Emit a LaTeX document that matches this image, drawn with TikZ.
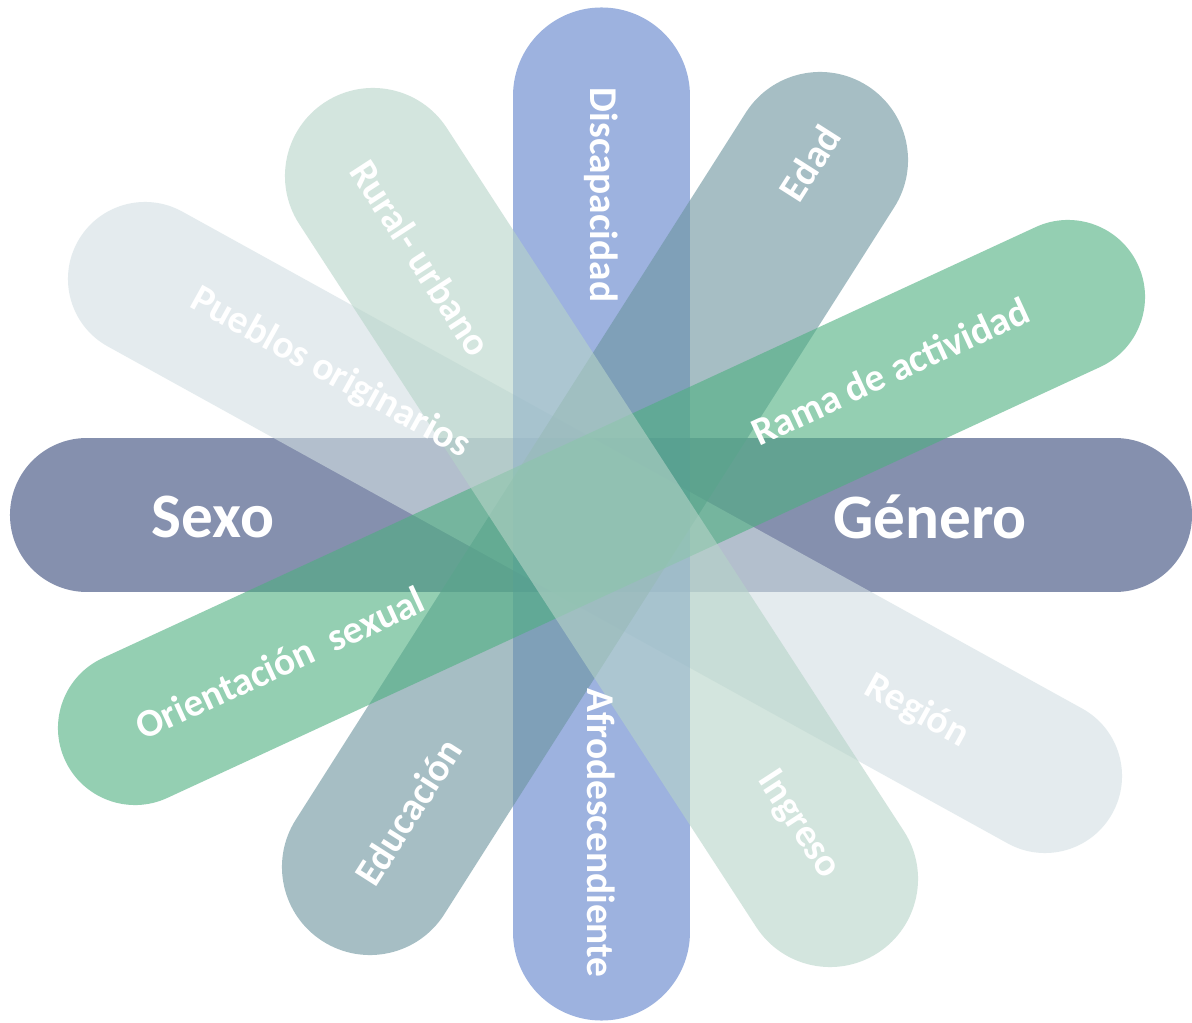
\documentclass[tikz,border=0pt]{standalone}
\usepackage{fontspec}
\setmainfont{Carlito}
\definecolor{sexocol}{RGB}{52,70,120}
\definecolor{discol}{RGB}{92,128,203}
\definecolor{edadcol}{RGB}{107,148,158}
\definecolor{ramacol}{RGB}{77,175,128}
\definecolor{ruralcol}{RGB}{182,212,200}
\definecolor{pueblocol}{RGB}{210,223,227}
\begin{document}
\begin{tikzpicture}[x=0.025cm, y=-0.025cm,
  band/.style={line cap=round, draw opacity=0.6},
  lbl/.style={text=white, inner sep=0pt, font=\bfseries\fontsize{28}{32}\selectfont},
  biglbl/.style={lbl, font=\bfseries\fontsize{45}{50}\selectfont}]
\fill[white] (0,0) rectangle (1192,1023);
\useasboundingbox (0,0) rectangle (1192,1023);

% Ends of the bands (centres of the round caps)
\coordinate (sexoL) at (87,515);
\coordinate (sexoR) at (1115,515);
\coordinate (puebloL) at (145,279);
\coordinate (puebloR) at (1045,776);
\coordinate (disT) at (601.5,96);
\coordinate (disB) at (601.5,932);
\coordinate (edadT) at (820,160);
\coordinate (edadB) at (370,867);
\coordinate (ramaT) at (1068,297);
\coordinate (ramaB) at (135,728);
\coordinate (ruralT) at (373,176);
\coordinate (ruralB) at (830,879);

% The bands
\draw[band, sexocol, line width=3.85cm] (sexoL) -- (sexoR);
\draw[band, pueblocol, line width=3.85cm] (puebloL) -- (puebloR);
\draw[band, discol, line width=4.425cm] (disT) -- (disB);
\draw[band, edadcol, line width=4.4cm] (edadT) -- (edadB);
\draw[band, ramacol, line width=3.85cm] (ramaT) -- (ramaB);
\draw[band, ruralcol, line width=4.4cm] (ruralT) -- (ruralB);

% The labels
\node[biglbl] (sexo) at (213,517) {Sexo};
\node[biglbl] (genero) at (930,517) {Género};
\node[lbl, rotate=-90] (discap) at (601,195) {Discapacidad};
\node[lbl, rotate=-90] (afro) at (601,833) {Afrodescendiente};
\node[lbl, rotate=57.5] (edad) at (810,163) {Edad};
\node[lbl, rotate=57.5] (educ) at (408,812) {Educación};
\node[lbl, rotate=24.8] (rama) at (890,371) {Rama de actividad};
\node[lbl, rotate=24.8] (orient) at (280,663) {Orientación\ \ sexual};
\node[lbl, rotate=-57] (rural) at (421,258) {Rural-\ urbano};
\node[lbl, rotate=-57] (ingreso) at (798,825) {Ingreso};
\node[lbl, rotate=-29] (pueblos) at (330,373) {Pueblos\ originarios};
\node[lbl, rotate=-29] (region) at (917,711) {Región};
\end{tikzpicture}
\end{document}
